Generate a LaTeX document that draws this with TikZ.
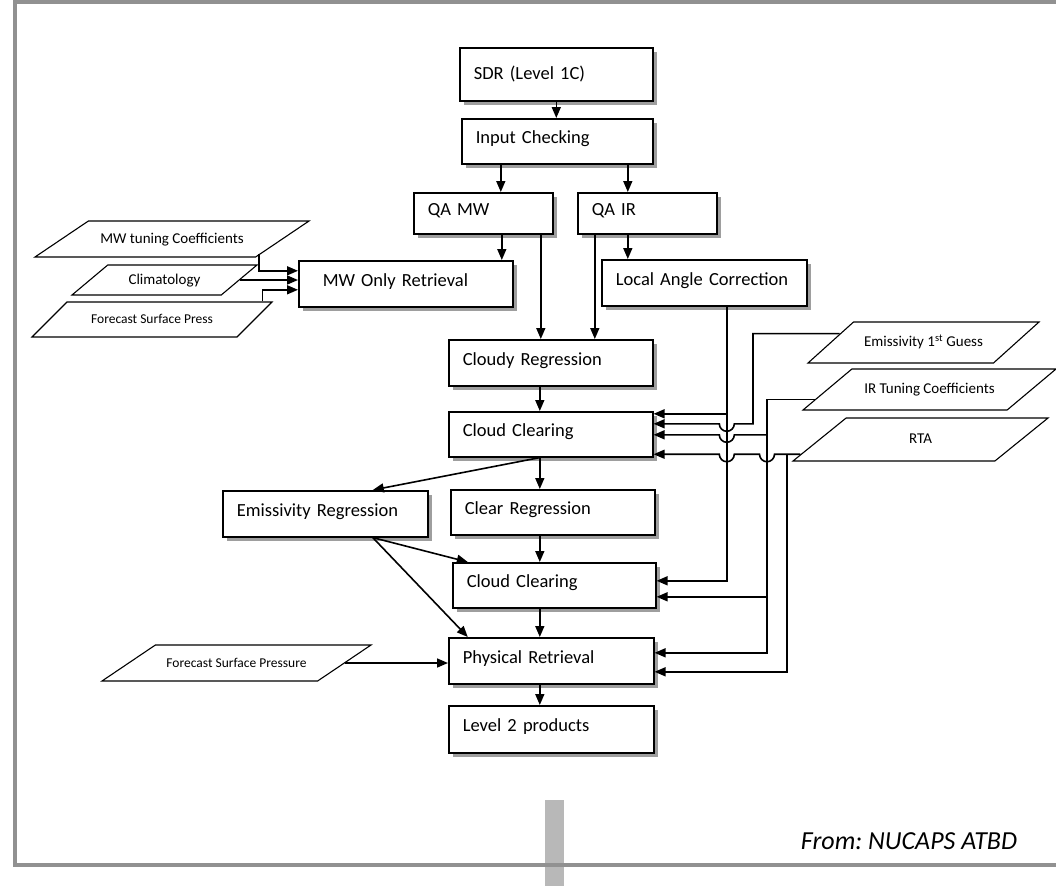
\documentclass[tikz,border=0pt]{standalone}
\usepackage{fontspec}
\setmainfont{Carlito}
\usetikzlibrary{arrows.meta,shapes.geometric,shadows}
\frenchspacing

\begin{document}
\begin{tikzpicture}[
	x=1pt, y=-1pt,
	proc/.style = {draw, line width=1.6pt, fill=white, anchor=north west,
		drop shadow={shadow xshift=4pt, shadow yshift=-4pt, fill=black!38, opacity=1},
		align=left, text width=#1, inner xsep=14pt, inner ysep=0pt,
		text height=13pt, text depth=8pt,
		minimum height=46pt, font=\fontsize{18.5}{22}\selectfont},
	data/.style 2 args = {trapezium, draw, line width=1.1pt, trapezium left angle=#1,
		trapezium right angle=#2, trapezium stretches body, inner xsep=0pt,
		text height=11pt, text depth=3pt, font=\fontsize{15}{18}\selectfont},
	flow/.style = {draw, line width=1.6pt, -{Triangle[length=11pt,width=9pt]}},
	]
	\useasboundingbox (0,0) rectangle (1056,886);
	\fill[black!28] (545,800) rectangle (564,886);
	\draw[line width=4pt, black!43] (13,2) -- (1056,2);
	\draw[line width=4pt, black!43] (15,0) -- (15,865) -- (1056,865);

	\node[proc=165pt, minimum height=53pt, text depth=2pt] (sdr) at (459,47) {SDR (Level 1C)};
	\node[proc=163pt, minimum height=45pt] (inchk) at (461,118) {Input Checking};
	\node[proc=111pt, minimum height=41pt] (qamw) at (413,192) {QA MW};
	\node[proc=111pt, minimum height=41pt] (qair) at (577,192) {QA IR};
	\node[proc=166pt, inner xsep=24pt] (mwret) at (298,260) {MW Only Retrieval};
	\node[proc=177pt] (locang) at (601,259) {Local Angle Correction};
	\node[proc=176pt] (cloudy) at (448,339) {Cloudy Regression};
	\node[proc=176pt, minimum height=45pt] (clclr1) at (448,411) {Cloud Clearing};
	\node[proc=177pt] (emreg) at (222,490) {Emissivity Regression};
	\node[proc=176pt, minimum height=45pt] (clrreg) at (450,489) {Clear Regression};
	\node[proc=175pt, minimum height=45pt] (clclr2) at (452,562) {Cloud Clearing};
	\node[proc=177pt] (phys) at (448,637) {Physical Retrieval};
	\node[proc=177pt, minimum height=47pt] (lev2) at (448,705) {Level 2 products};

	\node[data={34}{146}, minimum width=274pt, inner ysep=11pt] (mwtun) at (172,239) {MW tuning Coefficients};
	\node[data={40}{140}, minimum width=185pt, inner ysep=8pt] (clim) at (164.5,280) {Climatology};
	\node[data={45}{135}, minimum width=240pt, inner ysep=10.5pt, font=\fontsize{13.5}{16}\selectfont] (fcst1) at (152,319.5) {Forecast Surface Press};
	\node[data={42}{138}, minimum width=231pt, inner ysep=13.5pt] (emis) at (923.5,342.5) {Emissivity 1\textsuperscript{st} Guess};
	\node[data={40}{140}, minimum width=253pt, inner ysep=13.5pt] (irtun) at (929.5,389.5) {IR Tuning Coefficients};
	\node[data={39}{141}, minimum width=255pt, inner ysep=14.5pt] (rta) at (920.5,439.5) {RTA};
	\node[data={34}{146}, minimum width=269pt, inner ysep=11pt, font=\fontsize{13.5}{16}\selectfont] (fcst2) at (236.5,663) {Forecast Surface Pressure};

	\node[font=\itshape\fontsize{26}{31}\selectfont] (src) at (909,841) {From: NUCAPS ATBD};

	\coordinate (lac) at ([xshift=22.5pt]locang.south);
	\coordinate (mwa) at ([yshift=13pt]mwret.west);
	\coordinate (mwc) at ([yshift=-6pt]mwret.west);
	\coordinate (cc1a) at ([yshift=20.5pt]clclr1.east);
	\coordinate (cc1b) at ([yshift=10.5pt]clclr1.east);
	\coordinate (cc1c) at ([yshift=-0.5pt]clclr1.east);
	\coordinate (cc1d) at (clclr1.east |- rta.187);
	\coordinate (cc2a) at ([yshift=4.5pt]clclr2.east);
	\coordinate (cc2b) at ([yshift=-11.5pt]clclr2.east);
	\coordinate (pra) at ([yshift=8pt]phys.east);
	\coordinate (prb) at ([yshift=-11pt]phys.east);

	\draw[flow] (sdr.south) -- (sdr.south |- inchk.north);
	\draw[flow] ([xshift=17.5pt]qamw.north |- inchk.south) -- ([xshift=17.5pt]qamw.north);
	\draw[flow] ([xshift=-19.5pt]qair.north |- inchk.south) -- ([xshift=-19.5pt]qair.north);
	\draw[flow] ([xshift=18.5pt]qamw.south) -- ([xshift=18.5pt]qamw.south |- mwret.north);
	\draw[flow] ([xshift=57.5pt]qamw.south) -- ([xshift=57.5pt]qamw.south |- cloudy.north);
	\draw[flow] ([xshift=-52.5pt]qair.south) -- ([xshift=-52.5pt]qair.south |- cloudy.north);
	\draw[flow] ([xshift=-19.5pt]qair.south) -- ([xshift=-19.5pt]qair.south |- locang.north);
	\draw[flow] ([xshift=-11pt]cloudy.south) -- ([xshift=-11pt]cloudy.south |- clclr1.north);
	\draw[flow] ([xshift=-11pt]clclr1.south) -- ([xshift=-11pt]clclr1.south |- clrreg.north);
	\draw[flow] ([xshift=-11pt]clclr1.south) -- ([xshift=47.5pt]emreg.north);
	\draw[flow] ([xshift=-13pt]clrreg.south) -- ([xshift=-13pt]clrreg.south |- clclr2.north);
	\draw[flow] ([xshift=-14.5pt]clclr2.south) -- ([xshift=-14.5pt]clclr2.south |- phys.north);
	\draw[flow] ([xshift=-11.5pt]phys.south) -- ([xshift=-11.5pt]phys.south |- lev2.north);
	\draw[flow] ([xshift=47.5pt]emreg.south) -- ([xshift=-86.5pt]clclr2.north);
	\draw[flow] ([xshift=47.5pt]emreg.south) -- ([xshift=-83.5pt]phys.north);

	\draw[flow] ([shift={(3,-4)}]mwtun.bottom right corner) |- (mwa);
	\draw[flow] (clim.east) -- (clim.east -| mwret.west);
	\draw[flow] ([xshift=-11pt]fcst1.top right corner) |- (mwc);
	\draw[flow] (fcst2.east) -- (fcst2.east -| phys.west);

	\draw[flow] (lac) |- (cc2a);
	\draw[flow] (lac |- cc1a) -- (cc1a);
	\draw[flow] (emis.174) -| (cc1b -| 753,0) -- ([xshift=7.5pt]lac |- cc1b)
		arc[start angle=0, end angle=-180, radius=7.5pt] -- (cc1b);
	\draw[flow] (irtun.185) -| (pra -| 767,0) -- (pra);
	\draw[flow] (cc1c -| 767,0) -- ([xshift=7.5pt]lac |- cc1c)
		arc[start angle=0, end angle=-180, radius=7.5pt] -- (cc1c);
	\draw[flow] (cc2b -| 767,0) -- (cc2b);
	\draw[flow] (rta.187) -- (cc1d -| 774.5,0)
		arc[start angle=0, end angle=-180, radius=7.5pt]
		-- ([xshift=7.5pt]lac |- cc1d)
		arc[start angle=0, end angle=-180, radius=7.5pt] -- (cc1d);
	\draw[flow] (cc1d -| 787,0) |- (prb);
\end{tikzpicture}
\end{document}
